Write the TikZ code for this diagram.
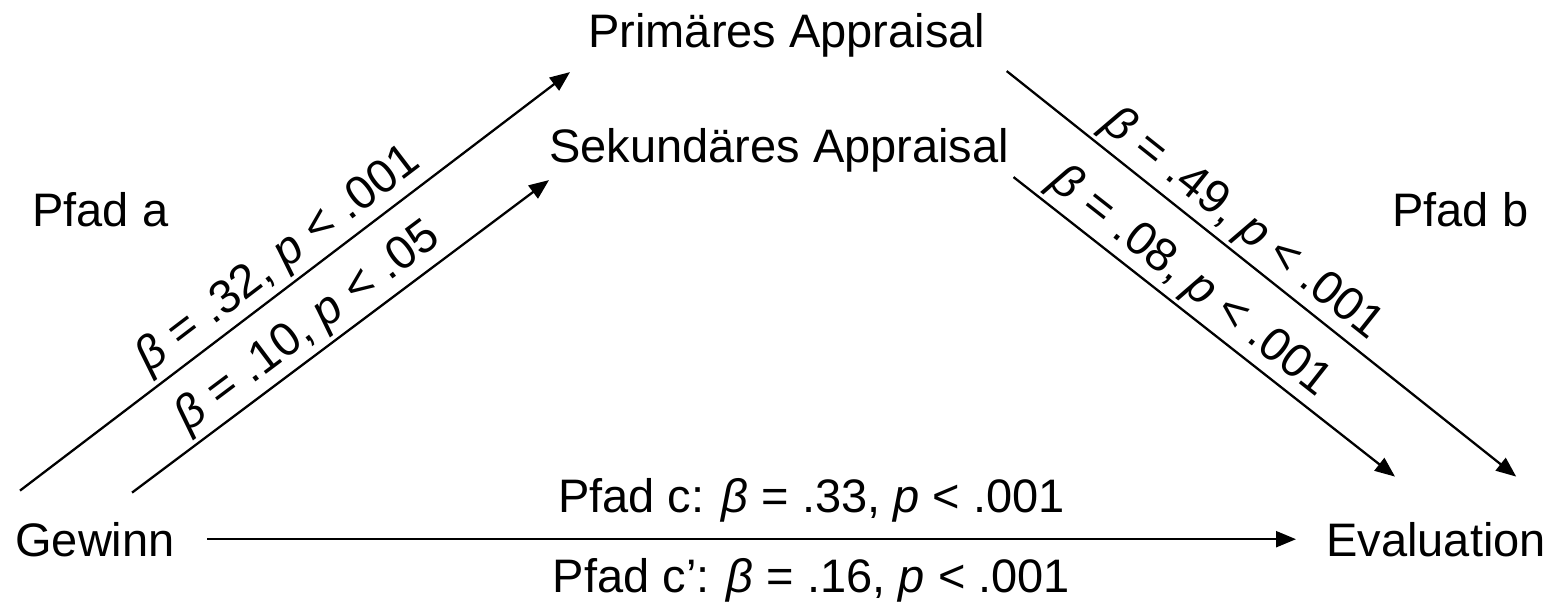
\documentclass[tikz,border=0pt]{standalone}
\usepackage{fontspec}
\setmainfont{Liberation Sans}
\usetikzlibrary{arrows.meta}

\begin{document}
\begin{tikzpicture}[x=0.02cm, y=-0.02cm,
    every node/.style={font=\fontsize{26.75}{32}\selectfont, inner sep=0pt},
    pfeil/.style={-{Triangle[length=0.4cm, width=0.32cm]}, line width=1.3pt},
    wert/.style={sloped, above=2pt}]
  \useasboundingbox (0,0) rectangle (1554,604);
  % Variablen
  \node[anchor=base west] (prim) at (588,48) {Primäres Appraisal};
  \node[anchor=base west] (sek) at (549,163) {Sekundäres Appraisal};
  \node[anchor=base west] (gewinn) at (15,556) {Gewinn};
  \node[anchor=base west] (eval) at (1326,556) {Evaluation};
  \node[anchor=base west] (pfada) at (32,227) {Pfad a};
  \node[anchor=base west] (pfadb) at (1392,227) {Pfad b};
  % Pfad a
  \draw[pfeil] ([xshift=0.1cm, yshift=0.62cm]gewinn.north west) -- ([xshift=-0.36cm, yshift=-0.28cm]prim.south west)
    node[wert, midway] {\textit{β} = .32, \textit{p} < .001};
  \draw[pfeil] ([xshift=-0.86cm, yshift=0.58cm]gewinn.north east) -- ([yshift=-0.14cm]sek.south west)
    node[wert, pos=.46] {\textit{β} = .10, \textit{p} < .05};
  % Pfad b
  \draw[pfeil] ([xshift=0.42cm, yshift=-0.26cm]prim.south east) -- ([xshift=-0.6cm, yshift=0.9cm]eval.north east)
    node[wert, pos=.43] {\textit{β} = .49, \textit{p} < .001};
  \draw[pfeil] ([xshift=0.08cm, yshift=-0.08cm]sek.south east) -- ([xshift=1.38cm, yshift=0.9cm]eval.north west)
    node[wert, pos=.42] {\textit{β} = .08, \textit{p} < .001};
  % Pfad c
  \draw[pfeil] ([xshift=0.64cm]gewinn.east) -- ([xshift=-0.6cm]gewinn.east -| eval.west)
    node[pos=.555, above=0.32cm] {Pfad c: \textit{β} = .33, \textit{p} < .001}
    node[pos=.555, below=0.36cm] {Pfad c’: \textit{β} = .16, \textit{p} < .001};
\end{tikzpicture}
\end{document}
